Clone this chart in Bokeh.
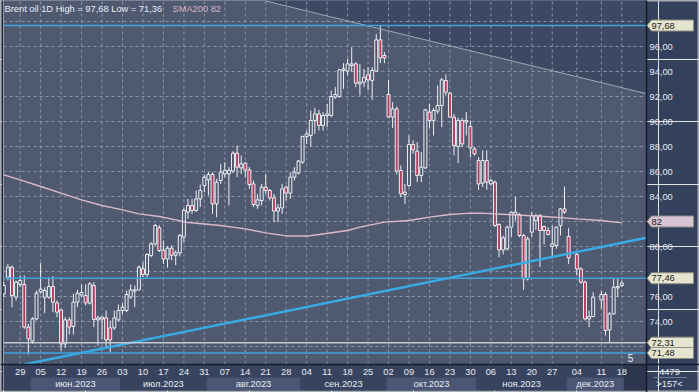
from bokeh.plotting import figure
from bokeh.models import Range1d, ColumnDataSource
from bokeh.core.properties import value
from bokeh.embed import file_html
from bokeh.resources import INLINE

FONT = "Liberation Sans"

# ---------------- data ----------------
opens = [76.21, 77.55, 78.35, 75.95, 76.96, 76.96, 73.55, 72.43, 74.21, 76.37,
         75.94, 75.95, 76.80, 75.49, 74.93, 72.21, 74.13, 73.60, 75.55, 76.11,
         76.08, 75.47, 76.88, 74.13, 74.19, 74.29, 73.49, 73.49, 74.13, 74.88,
         74.88, 75.95, 76.43, 76.53, 78.21, 77.76, 79.28, 80.21, 81.50, 79.70,
         79.00, 79.87, 79.30, 79.50, 80.75, 82.75, 83.28, 82.88, 83.81, 84.88,
         85.33, 85.76, 83.41, 85.28, 85.81, 85.81, 86.03, 87.47, 86.29, 86.67,
         86.13, 85.01, 83.28, 83.68, 84.75, 84.48, 83.89, 82.83, 83.09, 84.75,
         84.27, 85.55, 85.87, 86.75, 88.80, 88.88, 90.08, 90.61, 89.68, 90.48,
         90.48, 91.95, 92.00, 94.08, 94.03, 94.48, 94.61, 93.01, 93.15, 93.73,
         93.28, 94.03, 96.53, 95.28, 92.16, 90.35, 91.01, 86.08, 84.16, 84.88,
         88.16, 87.63, 85.68, 86.29, 90.75, 90.08, 90.83, 91.28, 93.28, 92.27,
         90.35, 88.00, 90.08, 89.95, 89.60, 87.81, 86.88, 85.07, 86.88, 85.01,
         85.15, 81.76, 79.73, 79.81, 81.55, 82.56, 82.56, 80.88, 77.41, 81.15,
         82.08, 82.48, 81.60, 81.28, 80.00, 80.08, 81.68, 83.01, 80.80,
         79.36, 78.21, 77.15, 74.21, 74.40,
         75.73, 76.16, 73.33, 74.61, 76.69, 76.88]
highs = [77.15, 78.61, 78.48, 77.28, 77.68, 77.68, 73.81, 74.35, 76.48, 78.67,
         76.74, 77.55, 77.63, 75.68, 75.01, 74.35, 74.35, 76.21, 76.53, 76.96,
         76.96, 77.15, 77.15, 74.48, 74.40, 74.88, 74.08, 74.88, 75.36, 75.47,
         76.48, 76.96, 76.88, 78.48, 78.75, 79.47, 80.35, 81.81, 81.70, 80.48,
         80.00, 80.10, 79.70, 81.00, 83.09, 83.81, 83.81, 84.48, 84.96, 85.76,
         85.95, 85.95, 85.41, 86.61, 86.75, 86.35, 87.63, 88.08, 87.28, 86.75,
         86.35, 85.28, 84.21, 85.01, 85.81, 84.61, 84.21, 83.41, 85.01, 84.88,
         85.95, 86.35, 86.93, 88.88, 89.28, 90.88, 91.09, 90.93, 90.75, 91.41,
         92.48, 92.75, 94.21, 94.67, 95.01, 95.95, 94.75, 94.61, 94.21, 94.35,
         94.35, 97.01, 97.68, 95.55, 93.33, 91.55, 91.20, 86.48, 85.01, 88.88,
         88.48, 88.35, 87.55, 91.01, 91.41, 91.09, 92.88, 93.49, 93.76, 92.35,
         90.61, 90.29, 90.29, 90.75, 90.08, 87.95, 87.15, 87.68, 87.68, 85.41,
         85.28, 81.87, 80.88, 81.68, 82.83, 83.95, 82.67, 81.01, 80.80, 82.75,
         82.61, 82.61, 81.68, 81.55, 81.68, 81.60, 83.09, 84.80, 81.49,
         79.68, 78.35, 77.28, 74.88, 76.35,
         76.43, 76.35, 74.75, 77.41, 77.41, 77.28]
lows = [75.95, 77.28, 75.15, 75.68, 76.75, 73.41, 71.36, 72.21, 74.08, 76.21,
        74.66, 75.81, 74.75, 74.35, 71.68, 71.89, 72.96, 72.96, 75.15, 75.95,
        75.28, 75.36, 73.55, 72.08, 72.61, 71.95, 71.55, 73.33, 74.03, 74.61,
        74.75, 75.81, 75.15, 76.48, 77.55, 77.55, 79.15, 80.08, 79.55, 78.60,
        78.30, 78.90, 78.50, 79.20, 80.35, 82.21, 82.61, 82.75, 83.15, 84.35,
        84.08, 82.61, 82.35, 85.01, 85.55, 83.28, 85.87, 85.55, 85.81, 85.55,
        84.61, 83.15, 83.01, 83.28, 84.21, 83.68, 81.95, 81.95, 82.61, 83.68,
        83.81, 85.28, 85.76, 86.61, 88.21, 88.00, 89.01, 89.28, 89.28, 89.55,
        90.35, 91.81, 91.89, 92.61, 93.68, 93.95, 92.75, 92.08, 92.75, 92.48,
        91.73, 93.95, 94.67, 94.67, 90.29, 89.49, 85.76, 83.95, 83.41, 84.75,
        87.41, 85.15, 85.15, 86.21, 89.49, 88.88, 90.61, 89.55, 92.08, 90.29,
        87.28, 86.67, 87.95, 88.88, 87.15, 87.28, 84.53, 84.75, 84.53, 84.88,
        81.55, 79.15, 79.36, 79.68, 80.80, 82.08, 80.75, 76.53, 77.28, 80.80,
        81.33, 78.35, 80.16, 80.88, 79.20, 79.81, 80.88, 82.61, 78.61,
        77.68, 77.01, 74.08, 73.55, 74.35,
        75.01, 72.88, 72.31, 74.56, 75.95, 76.75]
closes = [76.88, 78.35, 76.08, 77.15, 77.28, 73.55, 72.61, 74.21, 76.27, 76.59,
          76.48, 76.80, 75.55, 74.75, 72.21, 74.13, 73.55, 75.55, 76.27, 76.32,
          75.49, 77.01, 74.16, 74.29, 74.35, 72.53, 72.53, 74.29, 74.88, 75.15,
          76.16, 76.53, 76.53, 78.35, 77.76, 79.36, 80.21, 81.68, 79.68, 79.00,
          79.87, 79.30, 79.50, 80.88, 82.88, 83.28, 82.88, 83.81, 84.48, 85.55,
          85.76, 83.41, 85.15, 85.95, 86.08, 86.08, 87.47, 86.35, 86.61, 86.13,
          84.96, 83.36, 83.73, 84.75, 84.48, 83.89, 82.83, 83.09, 84.61, 84.27,
          85.55, 85.95, 86.83, 88.80, 89.01, 90.08, 90.61, 89.68, 90.48, 90.61,
          92.00, 92.16, 94.13, 94.21, 94.61, 94.61, 93.07, 93.15, 93.55, 93.33,
          94.08, 96.53, 95.09, 95.09, 90.35, 91.01, 86.03, 84.21, 84.35, 88.16,
          87.73, 85.68, 86.35, 90.93, 90.08, 90.88, 91.28, 93.33, 92.35, 90.35,
          88.08, 90.08, 88.21, 90.08, 87.89, 87.41, 85.01, 86.88, 85.15, 85.28,
          81.68, 79.73, 80.69, 81.55, 82.75, 82.75, 80.88, 77.41, 80.61, 82.48,
          82.48, 81.28, 81.28, 80.96, 80.21, 81.55, 83.01, 82.75, 79.09,
          78.21, 77.15, 74.21, 74.40, 75.95,
          76.16, 73.28, 74.61, 76.75, 76.80, 77.07]
gap_slots = [139, 145]          # empty day slots on the time axis

sma_slot = [0, 4, 9, 14, 19, 24, 29, 33, 38, 42, 45, 53, 59, 64, 69, 74.5, 77, 84, 87,
            93, 99, 104, 109, 114, 116.5, 123, 132, 140, 146, 151]
sma_val = [85.73, 85.33, 84.80, 84.27, 83.73, 83.28, 82.93, 82.61, 82.40, 82.13, 81.92,
           81.68, 81.41, 81.09, 80.85, 80.85, 80.96, 81.28, 81.55, 81.95, 82.08, 82.35,
           82.56, 82.67, 82.67, 82.56, 82.40, 82.21, 82.08, 81.89]

week_slots = [4, 9, 14, 19, 24, 29, 34, 39, 44, 49, 54, 59, 64, 69, 74, 79, 84, 89, 94,
              99, 104, 109, 114, 119, 124, 129, 134, 140, 146, 151]
week_labels = ["29", "05", "12", "19", "26", "03", "10", "17", "24", "31", "07", "14",
               "21", "28", "04", "11", "18", "25", "02", "09", "16", "23", "30", "06",
               "13", "20", "27", "04", "11", "18"]
month_edges = [6.5, 28.5, 49.5, 72.5, 93.5, 115.5, 137.5, 151.5]
month_labels = ["июн.2023", "июл.2023", "авг.2023", "сен.2023", "окт.2023",
                "ноя.2023", "дек.2023"]

price_ticks = [74, 76, 80, 84, 86, 88, 90, 92, 94, 96]
price_tick_labels = ["74,00", "76,00", "80,00", "84,00", "86,00", "88,00", "90,00",
                     "92,00", "94,00", "96,00"]
grid_prices = [72, 74, 76, 78, 80, 82, 84, 86, 88, 90, 92, 94, 96, 98]

level_prices = [97.68, 77.46, 72.31, 71.48]
level_colors = ["#3fa4de", "#3fa4de", "#c6c9cf", "#3fa4de"]
tag_prices = [97.68, 82.0, 77.46, 72.31, 71.48]
tag_texts = ["97,68", "82", "77,46", "72,31", "71,48"]
tag_colors = ["#e4e4cf", "#d7c3d3", "#e4e4cf", "#e4e4cf", "#e4e4cf"]

asc_slot, asc_price = [5.8, 157.1], [70.62, 80.70]      # support trend line
desc_slot, desc_price = [83.56, 157.1], [98.08, 92.22]  # resistance trend line

title_text = "Brent oil 1D High = 97,68 Low = 71,36"
sma_text = "SMA200 82"
count_text = "5"
count_pos = (153.1, 71.12)
corner_top, corner_bottom = "4479", ">157<"

# ---------------- layout constants ----------------
W, H = 699, 392
PXS = 4.093                       # pixels per day slot
PXP = 12.5                        # pixels per price unit
def sx(px):                       # canvas pixel -> slot
    return (px - 3.3) / PXS
def py(px):                       # canvas pixel -> price
    return 80 + (246 - px) / PXP

XL, XR = sx(0), sx(W)
X0, X1 = sx(3), sx(646)           # candle area
Y_TOP, Y_BOT = py(0), py(H)
P_BOT = py(364)
ROW_SPLIT = py(377)
STRIP_BOT = py(390)
DAY_Y, MONTH_Y = py(371.5), py(383.5)
HEAD_Y = py(8)

BG = "#4f5970"
PANEL = "#34415c"
TXT = "#e6eaf2"
TAG_L = 5 / PXS
TAG_R = 47 / PXS
TAG_TIP = 0.5 / PXS
TAG_H = 5.5 / PXP
CX = X1 + 23 / PXS

slots = [s for s in range(152) if s not in gap_slots]
bull = [c >= o for o, c in zip(opens, closes)]
src = ColumnDataSource(dict(
    x=slots, h=highs, l=lows,
    top=[max(o, c) for o, c in zip(opens, closes)],
    bot=[min(o, c) for o, c in zip(opens, closes)],
    fill=[BG if b else "#b33d5d" for b in bull],
))

p = figure(width=W, height=H, x_range=Range1d(XL, XR), y_range=Range1d(Y_BOT, Y_TOP),
           output_backend="svg", toolbar_location=None,
           x_axis_location=None, y_axis_location=None,
           min_border_left=0, min_border_right=0, min_border_top=0, min_border_bottom=0,
           background_fill_color=PANEL, border_fill_color=PANEL,
           outline_line_color="#a9adb5", outline_line_width=2)

# plot background + dark area above the resistance line
p.quad(left=[X0], right=[X1], bottom=[P_BOT], top=[Y_TOP + 1], fill_color=BG, line_color=None)
ds = (desc_price[1] - desc_price[0]) / (desc_slot[1] - desc_slot[0])
xa = desc_slot[0] + (Y_TOP + 1 - desc_price[0]) / ds
yb = desc_price[0] + ds * (X1 - desc_slot[0])
p.patch([xa, X1, X1], [Y_TOP + 1, yb, Y_TOP + 1], fill_color="#3d4963", line_color=None)

# dashed grid (3px dash, 3px gap)
vy_step, vy_dash = 6 / PXP, 3 / PXP
hx_step, hx_dash = 6 / PXS, 3 / PXS
gx0, gy0, gx1, gy1 = [], [], [], []
n_v = int((Y_TOP - P_BOT) / vy_step) + 1
for s in week_slots:
    for k in range(n_v):
        y = P_BOT + k * vy_step
        gx0.append(s); gx1.append(s); gy0.append(y); gy1.append(min(y + vy_dash, Y_TOP))
n_h = int((X1 - X0) / hx_step) + 1
for g in grid_prices:
    for k in range(n_h):
        x = X0 + k * hx_step
        gx0.append(x); gx1.append(min(x + hx_dash, X1)); gy0.append(g); gy1.append(g)
p.segment(x0=gx0, y0=gy0, x1=gx1, y1=gy1, line_color="#8a94a9", line_width=1)

# candles
p.segment(x0="x", y0="l", x1="x", y1="h", source=src, line_color="#eef0f4", line_width=1)
p.vbar(x="x", width=0.72, top="top", bottom="bot", fill_color="fill",
       line_color="#eef0f4", line_width=1, source=src)

# SMA 200
p.line(sma_slot, sma_val, line_color="#dbb9ca", line_width=1.5)

# trend lines
p.line([xa, X1], [Y_TOP + 1, yb], line_color="#a2a8b4", line_width=1)
sa = (asc_price[1] - asc_price[0]) / (asc_slot[1] - asc_slot[0])
x_start = asc_slot[0] + (P_BOT - asc_price[0]) / sa
p.line([x_start, X1], [P_BOT, asc_price[0] + sa * (X1 - asc_slot[0])],
       line_color="#39aae3", line_width=2.5)

# horizontal price levels
p.segment(x0=[X0] * len(level_prices), y0=level_prices, x1=[X1] * len(level_prices),
          y1=level_prices, line_color=level_colors, line_width=1.5)

p.text(x=[count_pos[0]], y=[count_pos[1]], text=[count_text], text_align="center",
       text_baseline="middle", text_font=value(FONT), text_font_size="10px",
       text_color="#eef0f4")

# header
p.text(x=[X0], y=[HEAD_Y], text=[title_text], x_offset=1, text_baseline="middle",
       text_font=value(FONT), text_font_size="9.3px", text_color="#eaeef6")
p.text(x=[41.2], y=[HEAD_Y], text=[sma_text], text_baseline="middle",
       text_font=value(FONT), text_font_size="9.3px", text_color="#d9b2c6")

# left edge line
p.segment(x0=[sx(2)], y0=[STRIP_BOT], x1=[sx(2)], y1=[Y_TOP + 1], line_color="#1f2636",
          line_width=1)

# bottom time strip
edges = [X0] + month_edges + [X1]
band_cols = []
for k in range(len(edges) - 1):
    if k == len(edges) - 2:
        band_cols.append("#2c374f")
    else:
        band_cols.append("#4a5673" if k % 2 == 1 else "#38445f")
p.quad(left=[X0, month_edges[-1]], right=[month_edges[-1], X1], bottom=ROW_SPLIT, top=P_BOT,
       fill_color=["#38445f", "#2c374f"], line_color=None)
p.quad(left=edges[:-1], right=edges[1:], bottom=STRIP_BOT, top=ROW_SPLIT,
       fill_color=band_cols, line_color=None)
p.segment(x0=[XL], y0=[P_BOT], x1=[XR], y1=[P_BOT], line_color="#161c29", line_width=1.5)
p.segment(x0=[X1 + 7 / PXS], y0=[ROW_SPLIT], x1=[X1 + 40 / PXS], y1=[ROW_SPLIT],
          line_color="#6f7d96", line_width=1)

# day row (week starts + bar counter in the corner) and month row (+ corner)
mcent = [(a + b) / 2 for a, b in zip(month_edges[:-1], month_edges[1:])]
p.text(x=week_slots + [CX], y=[DAY_Y] * (len(week_slots) + 1),
       text=week_labels + [corner_top], text_align="center",
       text_baseline="middle", text_font=value(FONT), text_font_size="9.3px",
       text_color=TXT)
p.text(x=mcent + [CX], y=[MONTH_Y] * (len(mcent) + 1), text=month_labels + [corner_bottom],
       text_align="center", text_baseline="middle", text_font=value(FONT),
       text_font_size="9.3px", text_color=TXT)

# right price scale
p.segment(x0=[X1], y0=[Y_BOT], x1=[X1], y1=[Y_TOP + 1], line_color="#141a26", line_width=1.5)
p.text(x=[X1] * len(price_ticks), y=price_ticks, text=price_tick_labels, x_offset=3,
       text_align="left", text_baseline="middle", text_font=value(FONT),
       text_font_size="9.3px", text_color=TXT)

# price tags (arrow shaped)
tag_xs = [[X1 + TAG_TIP, X1 + TAG_L, X1 + TAG_R, X1 + TAG_R, X1 + TAG_L] for _ in tag_prices]
tag_ys = [[pr, pr + TAG_H, pr + TAG_H, pr - TAG_H, pr - TAG_H] for pr in tag_prices]
p.patches(tag_xs, tag_ys, fill_color=tag_colors, line_color="#8d8d80", line_width=1)
p.text(x=[X1 + TAG_L] * len(tag_prices), y=tag_prices, text=tag_texts, x_offset=0,
       text_align="left", text_baseline="middle", text_font=value(FONT),
       text_font_size="9.3px", text_color="#1b1b1b")

open("out.html", "w").write(file_html(p, INLINE))
